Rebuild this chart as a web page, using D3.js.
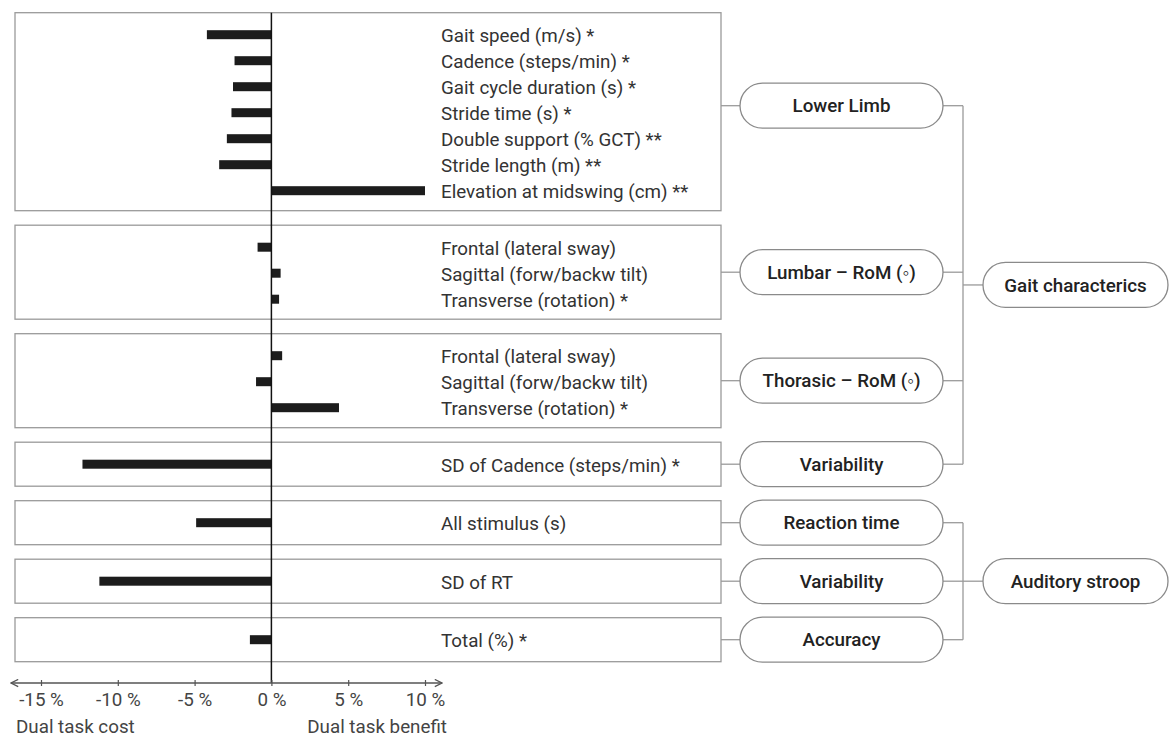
<!DOCTYPE html>
<html>
<head>
<meta charset="utf-8">
<script src="https://cdn.jsdelivr.net/npm/d3@7"></script>
<style>
  body { margin: 0; background: #fff; }
  svg { display: block; font-family: Roboto, "Noto Sans", sans-serif; }
</style>
</head>
<body>
<div id="chart"></div>
<script>
// data (dual task effect in %)
var groupNames = ["Lower Limb", "Lumbar \u2013 RoM (\u25E6)", "Thorasic \u2013 RoM (\u25E6)", "Variability",
                  "Reaction time", "Variability", "Accuracy"];
var parentNames = ["Gait characterics", "Auditory stroop"];
var parentOf = [0, 0, 0, 0, 1, 1, 1];

var metricLabels = [
    ["Gait speed (m/s) *", "Cadence (steps/min) *", "Gait cycle duration (s) *", "Stride time (s) *",
     "Double support (% GCT) **", "Stride length (m) **", "Elevation at midswing (cm) **"],
    ["Frontal (lateral sway)", "Sagittal (forw/backw tilt)", "Transverse (rotation) *"],
    ["Frontal (lateral sway)", "Sagittal (forw/backw tilt)", "Transverse (rotation) *"],
    ["SD of Cadence (steps/min) *"],
    ["All stimulus (s)"],
    ["SD of RT"],
    ["Total (%) *"]
];
var metricValues = [
    [-4.2, -2.4, -2.5, -2.6, -2.9, -3.4, 10.0],
    [-0.9, 0.6, 0.5],
    [0.7, -1.0, 4.4],
    [-12.3],
    [-4.9],
    [-11.2],
    [-1.4]
];
var xTicks = [-15, -10, -5, 0, 5, 10];

var width = 1170, height = 740;
var rowStep = 26, gap = 14.5;
var boxLeft = 15, boxRight = 721;
var pillX = 740, pillW = 203, pillH = 45;
var parentX = 983, parentW = 185;
var bracketX = 963;
var fontSize = 18.8;

var x = d3.scaleLinear().domain([-15, 10]).range([41, 425]);

var svg = d3.select("#chart").append("svg")
    .attr("width", width)
    .attr("height", height);

// arrow marker for the axis ends
var defs = svg.append("defs");
defs.append("marker")
    .attr("id", "arrow")
    .attr("viewBox", "0 0 10 10")
    .attr("refX", 9).attr("refY", 5)
    .attr("markerWidth", 9).attr("markerHeight", 9)
    .attr("markerUnits", "userSpaceOnUse")
    .attr("orient", "auto-start-reverse")
    .append("path")
    .attr("d", "M1,1 L9,5 L1,9")
    .attr("fill", "none")
    .attr("stroke", "#555")
    .attr("stroke-width", 1.4);

// layout the boxes
var groups = [];
var yCur = 12.7;
groupNames.forEach(function (name, i) {
    var n = metricLabels[i].length;
    var padTop = 22, padBot = n > 1 ? 20 : 22;
    var h = padTop + (n - 1) * rowStep + padBot;
    var rows = metricLabels[i].map(function (lab, j) {
        return { label: lab, value: metricValues[i][j], y: yCur + padTop + j * rowStep };
    });
    var cy = yCur + h / 2;
    if (i == 0) cy -= 6; // top pill sits a bit above box centre
    groups.push({ name: name, top: yCur, h: h, rows: rows, cy: cy, parent: parentOf[i] });
    yCur += h + gap;
});

var axisY = 683;

// boxes
var g = svg.append("g");
g.selectAll(".box")
    .data(groups)
    .enter().append("rect")
    .attr("class", "box")
    .attr("x", boxLeft)
    .attr("y", function (d) { return d.top; })
    .attr("width", boxRight - boxLeft)
    .attr("height", function (d) { return d.h; })
    .attr("fill", "none")
    .attr("stroke", "#9a9a9a")
    .attr("stroke-width", 1.3);

var rows = [];
groups.forEach(function (d) { rows = rows.concat(d.rows); });

// bars
g.selectAll(".bar")
    .data(rows)
    .enter().append("rect")
    .attr("class", "bar")
    .attr("x", function (d) { return x(Math.min(0, d.value)); })
    .attr("y", function (d) { return d.y - 4.5; })
    .attr("width", function (d) { return Math.abs(x(d.value) - x(0)); })
    .attr("height", 9)
    .attr("fill", "#1c1c1c");

// metric labels
g.selectAll(".label")
    .data(rows)
    .enter().append("text")
    .attr("class", "label")
    .attr("x", 441)
    .attr("y", function (d) { return d.y; })
    .attr("dy", "0.4em")
    .attr("font-size", fontSize)
    .attr("fill", "#333")
    .text(function (d) { return d.label; });

// zero line
svg.append("line")
    .attr("x1", x(0)).attr("x2", x(0))
    .attr("y1", groups[0].top).attr("y2", axisY)
    .attr("stroke", "#111")
    .attr("stroke-width", 1.5);

// x axis
var axis = svg.append("g")
    .attr("transform", "translate(0," + axisY + ")")
    .call(d3.axisBottom(x).tickValues(xTicks)
        .tickFormat(function (d) { return d + " %"; })
        .tickSize(3).tickPadding(7));
axis.select(".domain").remove();
axis.selectAll(".tick line").attr("y1", -3).attr("stroke", "#555").attr("stroke-width", 1.2);
axis.selectAll(".tick text")
    .attr("font-size", fontSize)
    .attr("font-family", "Roboto, sans-serif")
    .attr("fill", "#444");

svg.append("line")
    .attr("x1", x(-15) - 30).attr("x2", x(10) + 17)
    .attr("y1", axisY).attr("y2", axisY)
    .attr("stroke", "#555")
    .attr("stroke-width", 1.5)
    .attr("marker-start", "url(#arrow)")
    .attr("marker-end", "url(#arrow)");

svg.append("text")
    .attr("x", 16).attr("y", 733)
    .attr("font-size", fontSize).attr("fill", "#444")
    .text("Dual task cost");
svg.append("text")
    .attr("x", 447).attr("y", 733)
    .attr("text-anchor", "end")
    .attr("font-size", fontSize).attr("fill", "#444")
    .text("Dual task benefit");

// tree of pills on the right
var lineClr = "#9a9a9a";
var tree = svg.append("g");

tree.selectAll(".stub")
    .data(groups)
    .enter().append("line")
    .attr("x1", boxRight).attr("x2", pillX)
    .attr("y1", function (d) { return d.cy; })
    .attr("y2", function (d) { return d.cy; })
    .attr("stroke", lineClr).attr("stroke-width", 1.3);

tree.selectAll(".stub2")
    .data(groups)
    .enter().append("line")
    .attr("x1", pillX + pillW).attr("x2", bracketX)
    .attr("y1", function (d) { return d.cy; })
    .attr("y2", function (d) { return d.cy; })
    .attr("stroke", lineClr).attr("stroke-width", 1.3);

function pill(sel, px, pw) {
    sel.append("rect")
        .attr("x", px)
        .attr("y", function (d) { return d.cy - pillH / 2; })
        .attr("width", pw)
        .attr("height", pillH)
        .attr("rx", pillH / 2)
        .attr("fill", "#fff")
        .attr("stroke", "#8a8a8a")
        .attr("stroke-width", 1.3);
    sel.append("text")
        .attr("x", px + pw / 2)
        .attr("y", function (d) { return d.cy; })
        .attr("dy", "0.36em")
        .attr("text-anchor", "middle")
        .attr("font-size", fontSize)
        .attr("font-weight", 500)
        .attr("fill", "#222")
        .text(function (d) { return d.name; });
}

tree.selectAll(".child")
    .data(groups)
    .enter().append("g")
    .attr("class", "child")
    .call(pill, pillX, pillW);

var parents = parentNames.map(function (name, p) {
    var kids = groups.filter(function (d) { return d.parent == p; });
    var y0 = d3.min(kids, function (d) { return d.cy; });
    var y1 = d3.max(kids, function (d) { return d.cy; });
    return { name: name, y0: y0, y1: y1, cy: (y0 + y1) / 2 };
});

tree.selectAll(".bracket")
    .data(parents)
    .enter().append("line")
    .attr("x1", bracketX).attr("x2", bracketX)
    .attr("y1", function (d) { return d.y0; })
    .attr("y2", function (d) { return d.y1; })
    .attr("stroke", lineClr).attr("stroke-width", 1.3);

tree.selectAll(".pstub")
    .data(parents)
    .enter().append("line")
    .attr("x1", bracketX).attr("x2", parentX)
    .attr("y1", function (d) { return d.cy; })
    .attr("y2", function (d) { return d.cy; })
    .attr("stroke", lineClr).attr("stroke-width", 1.3);

tree.selectAll(".parent")
    .data(parents)
    .enter().append("g")
    .attr("class", "parent")
    .call(pill, parentX, parentW);
</script>
</body>
</html>
